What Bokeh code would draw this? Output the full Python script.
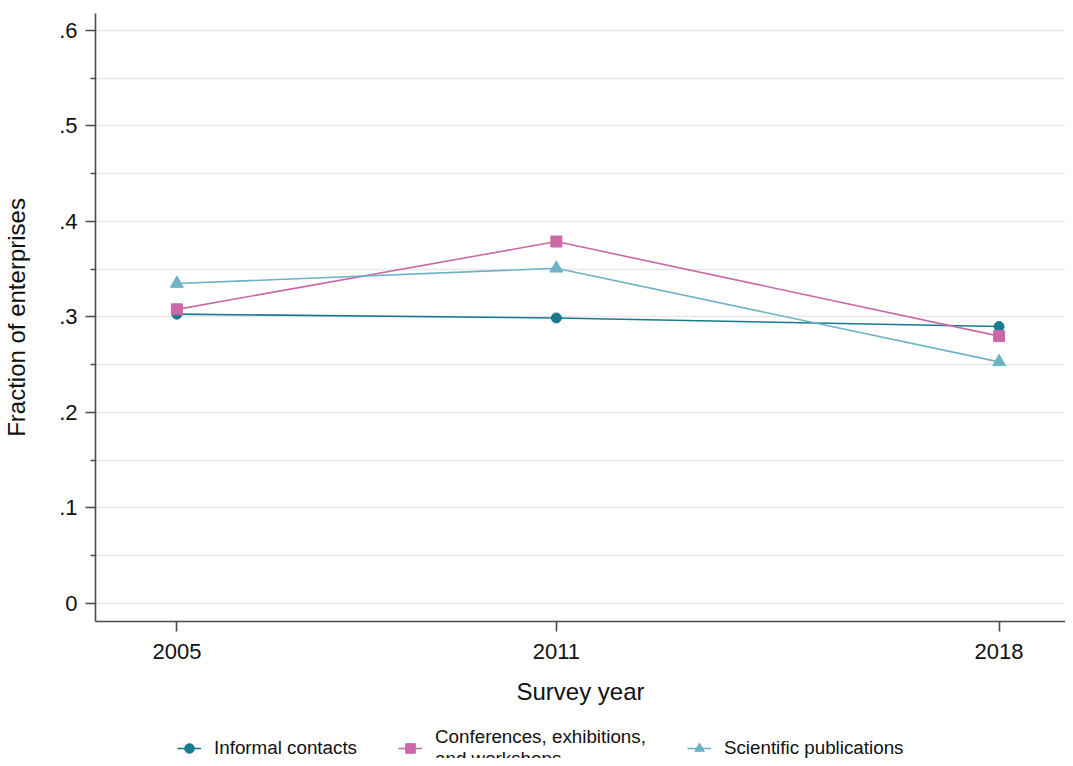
from bokeh.plotting import figure
from bokeh.layouts import column
from bokeh.models import FixedTicker, CustomJSTickFormatter, Legend, LegendItem
from bokeh.embed import file_html
from bokeh.resources import INLINE

# ---- data ----
years = [2005, 2011, 2018]
informal = [0.303, 0.299, 0.290]
conferences = [0.308, 0.379, 0.280]
scientific = [0.335, 0.351, 0.253]
series_labels = ["Informal contacts", "Conferences, exhibitions,\nand workshops", "Scientific publications"]
y_ticks = [0, 0.1, 0.2, 0.3, 0.4, 0.5, 0.6]
y_minor_ticks = [0.05, 0.15, 0.25, 0.35, 0.45, 0.55]
x_label = "Survey year"
y_label = "Fraction of enterprises"

FONT = "Liberation Sans"
AXIS_COL = "#4a4a4a"
GRID_COL = "#e8e8e8"
C_INF = "#18798f"
C_CONF = "#cc68a8"
C_SCI = "#6db3c6"
colors = [C_INF, C_CONF, C_SCI]
markers = ["circle", "square", "triangle"]
msizes = [10, 11, 13]

p = figure(width=1065, height=722, x_range=(2003.713, 2019.05), y_range=(-0.01885, 0.6178),
           output_backend="svg", toolbar_location=None,
           min_border_left=88, min_border_right=0, min_border_top=13, min_border_bottom=101)
p.outline_line_color = None
p.background_fill_color = "white"
p.border_fill_color = "white"

for vals, c, m, s in zip([informal, conferences, scientific], colors, markers, msizes):
    p.line(years, vals, line_color=c, line_width=1.6)
    p.scatter(years, vals, marker=m, size=s, fill_color=c, line_color=c)

# y axis
yt = FixedTicker(ticks=y_ticks, minor_ticks=y_minor_ticks)
p.yaxis.ticker = yt
p.yaxis.formatter = CustomJSTickFormatter(code="""
    if (Math.abs(tick) < 1e-9) return '0';
    return tick.toFixed(1).replace(/^0/, '');
""")
p.ygrid.ticker = yt
p.ygrid.grid_line_color = GRID_COL
p.ygrid.grid_line_width = 1.5
p.ygrid.minor_grid_line_color = GRID_COL
p.ygrid.minor_grid_line_width = 1.5
p.xgrid.grid_line_color = None

p.xaxis.ticker = FixedTicker(ticks=years, minor_ticks=[])

for ax in (p.xaxis[0], p.yaxis[0]):
    ax.axis_line_color = AXIS_COL
    ax.axis_line_width = 1.6
    ax.major_tick_line_color = AXIS_COL
    ax.major_tick_line_width = 1.6
    ax.minor_tick_line_color = AXIS_COL
    ax.minor_tick_line_width = 1.6
    ax.major_tick_in = 0
    ax.major_tick_out = 10
    ax.minor_tick_in = 0
    ax.minor_tick_out = 5
    ax.major_label_text_font = FONT
    ax.major_label_text_font_size = "22px"
    ax.major_label_text_color = "#111111"
    ax.axis_label_text_font = FONT
    ax.axis_label_text_font_size = "24px"
    ax.axis_label_text_font_style = "normal"
    ax.axis_label_text_color = "#111111"

p.xaxis.minor_tick_out = 0
p.xaxis.axis_label = x_label
p.xaxis.major_label_standoff = 12
p.xaxis.axis_label_standoff = 16
p.yaxis.axis_label = y_label
p.yaxis.major_label_standoff = 8
p.yaxis.axis_label_standoff = 26

# ---- legend strip (separate canvas below the plot) ----
lg = figure(width=1065, height=36, x_range=(0, 1), y_range=(0, 1),
            x_axis_type=None, y_axis_type=None,
            output_backend="svg", toolbar_location=None,
            min_border_left=0, min_border_right=0, min_border_top=0, min_border_bottom=0)
lg.outline_line_color = None
lg.xgrid.visible = False
lg.ygrid.visible = False
lg.background_fill_color = "white"
lg.border_fill_color = "white"

# legend-key renderers: a single point placed outside this strip's visible range
items = []
for lab, c, m, s in zip(series_labels, colors, markers, msizes):
    rl = lg.line(x=[-5, -4], y=[-5, -5], line_color=c, line_width=1.6)
    rm = lg.scatter(x=[-5], y=[-5], marker=m, size=s, fill_color=c, line_color=c)
    items.append(LegendItem(label=lab, renderers=[rl, rm]))

legend = Legend(items=items, location=(82, -12), orientation="horizontal")
legend.border_line_color = None
legend.background_fill_alpha = 0
legend.padding = 0
legend.margin = 0
legend.spacing = 41
legend.glyph_width = 24
legend.glyph_height = 26
legend.label_standoff = 13
legend.label_text_font = FONT
legend.label_text_font_size = "18.8px"
legend.label_text_line_height = 0.85
legend.label_text_color = "#111111"
lg.add_layout(legend, "center")

layout = column(p, lg, spacing=0)
open("out.html", "w").write(file_html(layout, INLINE))
